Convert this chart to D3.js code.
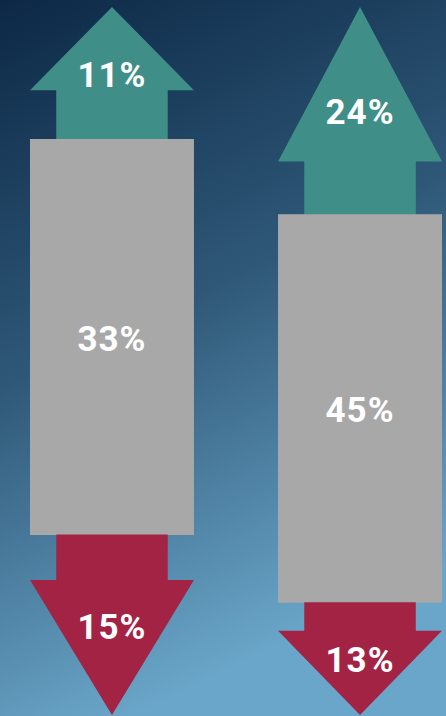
<!DOCTYPE html>
<html lang="en">
<head>
    <meta charset="UTF-8">
    <title>Up / Down Arrows</title>
    <script src="https://d3js.org/d3.v7.min.js"></script>
    <style>
    html, body { margin: 0; padding: 0; background: #0d2a48; }
    svg { display: block; }
    .label {
        fill: #fff;
        font-family: Roboto, "Noto Sans", sans-serif;
        font-weight: 700;
        font-size: 35px;
        letter-spacing: 1px;
        text-anchor: middle;
        dominant-baseline: central;
    }
    </style>
</head>
<body>
<svg id="chart"></svg>
<script>
    // data
    const columns = ["A", "B"];
    const upValues = [11, 24];
    const midValues = [33, 45];
    const downValues = [15, 13];

    const width = 446, height = 716;
    const margin = { top: 7, bottom: 1, left: 30, right: 4 };
    // share of the arrow taken by the head
    const upHead = [0.63, 0.745];
    const downHead = [0.75, 0.75];

    const svg = d3.select('#chart')
        .attr('width', width)
        .attr('height', height);

    // background gradient
    const defs = svg.append('defs');
    const grad = defs.append('linearGradient')
        .attr('id', 'bg')
        .attr('x1', '0').attr('y1', '0')
        .attr('x2', '0.3').attr('y2', '1');
    grad.append('stop').attr('offset', '0%').attr('stop-color', '#0c2846');
    grad.append('stop').attr('offset', '50%').attr('stop-color', '#2f5878');
    grad.append('stop').attr('offset', '100%').attr('stop-color', '#6aa6c9');
    svg.append('rect')
        .attr('width', width).attr('height', height)
        .attr('fill', 'url(#bg)');

    const xScale = d3.scaleBand()
        .domain(columns)
        .range([margin.left, width - margin.right])
        .paddingInner(0.339);

    const g = svg.append('g');

    function label(x, y, v) {
        g.append('text').attr('class', 'label')
            .attr('x', x).attr('y', y).attr('dy', 2)
            .text(v + '%');
    }

    columns.forEach((c, i) => {
        const total = upValues[i] + midValues[i] + downValues[i];
        const y = d3.scaleLinear()
            .domain([0, total])
            .range([margin.top, height - margin.bottom]);

        const x0 = xScale(c);
        const bw = xScale.bandwidth();
        const cx = x0 + bw / 2;
        const shaftHalf = bw * 0.34;

        // up arrow
        const uTop = y(0), uBot = y(upValues[i]);
        const uHeadBase = uTop + (uBot - uTop) * upHead[i];
        g.append('path')
            .attr('fill', '#3f8f88')
            .attr('d', d3.line()([
                [cx, uTop], [x0 + bw, uHeadBase], [cx + shaftHalf, uHeadBase],
                [cx + shaftHalf, uBot + 0.5], [cx - shaftHalf, uBot + 0.5],
                [cx - shaftHalf, uHeadBase], [x0, uHeadBase]
            ]) + 'Z');
        label(cx, (uTop + uBot) / 2, upValues[i]);

        // middle block
        const mTop = uBot, mBot = y(upValues[i] + midValues[i]);
        g.append('rect')
            .attr('x', x0).attr('y', mTop)
            .attr('width', bw).attr('height', mBot - mTop)
            .attr('fill', '#a8a8a8');
        label(cx, (mTop + mBot) / 2, midValues[i]);

        // down arrow
        const dTop = mBot, dBot = y(total);
        const dHeadBase = dBot - (dBot - dTop) * downHead[i];
        g.append('path')
            .attr('fill', '#a32345')
            .attr('d', d3.line()([
                [cx - shaftHalf, dTop - 0.5], [cx + shaftHalf, dTop - 0.5],
                [cx + shaftHalf, dHeadBase], [x0 + bw, dHeadBase],
                [cx, dBot], [x0, dHeadBase], [cx - shaftHalf, dHeadBase]
            ]) + 'Z');
        label(cx, (dTop + dBot) / 2, downValues[i]);
    });
</script>
</body>
</html>
